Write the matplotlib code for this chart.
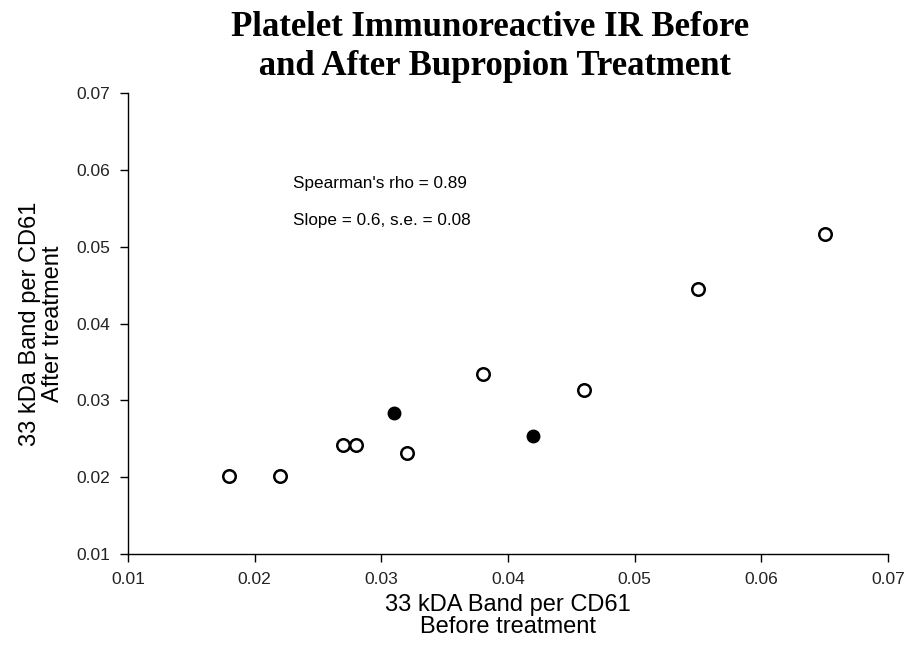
import matplotlib
matplotlib.use("Agg")
import matplotlib.pyplot as plt

open_x = [0.018, 0.022, 0.027, 0.028, 0.032, 0.038, 0.046, 0.055, 0.065]
open_y = [0.0201, 0.0201, 0.0242, 0.0242, 0.0232, 0.0334, 0.0314, 0.0445, 0.0516]
filled_x = [0.031, 0.042]
filled_y = [0.0283, 0.0253]
ticks = [0.01, 0.02, 0.03, 0.04, 0.05, 0.06, 0.07]
tick_labels = ["0.01", "0.02", "0.03", "0.04", "0.05", "0.06", "0.07"]

plt.rcParams['font.family'] = ['Liberation Sans', 'DejaVu Sans']
fig = plt.figure(figsize=(9.06, 6.47), dpi=100)
ax = fig.add_axes([128/906, 1-554/647, (888-128)/906, (554-93)/647])

ax.plot(open_x, open_y, 'o', ms=9, mfc='white', mec='black', mew=1.8, ls='none')
ax.plot(filled_x, filled_y, 'o', ms=9, mfc='black', mec='black', ls='none')

ax.set_xlim(0.01, 0.07)
ax.set_ylim(0.01, 0.07)
ax.set_xticks(ticks)
ax.set_xticklabels(tick_labels)
ax.set_yticks(ticks)
ax.set_yticklabels(tick_labels)
for s in ['top', 'right']:
    ax.spines[s].set_visible(False)
for s in ['left', 'bottom']:
    ax.spines[s].set_linewidth(1.0)
ax.tick_params(direction='out', length=6, width=1, labelsize=12.5, labelcolor='#222222', pad=7)

ax.set_xlabel("33 kDA Band per CD61\nBefore treatment", fontsize=17, labelpad=5, linespacing=1.0)
ax.set_ylabel("33 kDa Band per CD61\nAfter treatment", fontsize=17, labelpad=9, linespacing=1.05)

ax.text(0.0230, 0.0582, "Spearman's rho = 0.89", fontsize=12.3, va='center', ha='left')
ax.text(0.0230, 0.0534, "Slope = 0.6, s.e. = 0.08", fontsize=12.3, va='center', ha='left')

fig.text(490/906, 1-47/647, "Platelet Immunoreactive IR Before\n and After Bupropion Treatment",
         ha='center', va='center', fontsize=25, fontweight='bold',
         family=['Liberation Serif', 'DejaVu Serif'], linespacing=1.25)

fig.savefig("out.png", dpi=100)
